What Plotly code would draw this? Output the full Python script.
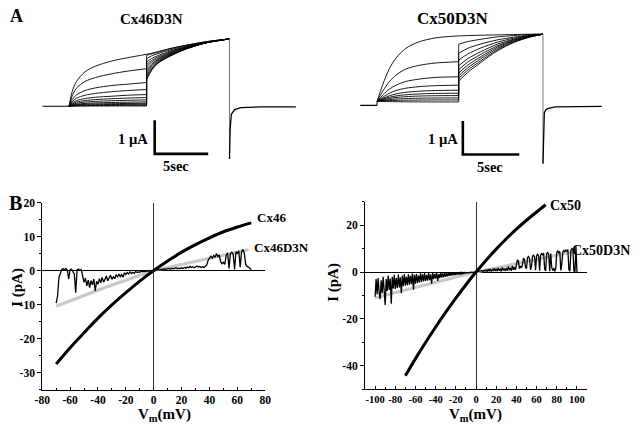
import plotly.graph_objects as go

W, H = 640, 428
FONT = "Liberation Serif"

# ---------------- Panel A : current traces (time in s, current in µA) ----------------
A46_BASE_T = [0.0, 2.5]
A46_T1 = [2.5, 2.8, 3.2, 4.0, 5.0, 6.5, 8.0, 9.75]
A46_SEG1 = [
    [0, 0.44, 0.74, 1.03, 1.20, 1.35, 1.45, 1.55],
    [0, 0.31, 0.54, 0.74, 0.86, 0.97, 1.05, 1.12],
    [0, 0.20, 0.34, 0.47, 0.55, 0.62, 0.66, 0.71],
    [0, 0.14, 0.24, 0.33, 0.385, 0.435, 0.47, 0.50],
    [0, 0.10, 0.17, 0.23, 0.27, 0.30, 0.33, 0.35],
    [0, 0.07, 0.125, 0.17, 0.20, 0.225, 0.245, 0.26],
    [0, 0.053, 0.09, 0.125, 0.146, 0.165, 0.178, 0.19],
    [0, 0.036, 0.062, 0.086, 0.10, 0.113, 0.122, 0.13],
    [0, 0.025, 0.043, 0.06, 0.07, 0.078, 0.084, 0.09],
    [0, 0.017, 0.029, 0.04, 0.046, 0.052, 0.056, 0.06],
    [0, 0.008, 0.014, 0.02, 0.023, 0.026, 0.028, 0.03],
    [0, 0.003, 0.005, 0.007, 0.008, 0.009, 0.01, 0.01],
]
A46_T2 = [9.75, 10.2, 10.8, 12.3, 13.8, 15.4, 17.5]
A46_SEG2 = [
    [1.55, 1.58, 1.63, 1.75, 1.84, 1.93, 2.01],
    [1.52, 1.56, 1.61, 1.74, 1.84, 1.93, 2.01],
    [1.42, 1.50, 1.57, 1.71, 1.82, 1.92, 2.01],
    [1.32, 1.42, 1.51, 1.68, 1.80, 1.91, 2.01],
    [1.245, 1.36, 1.47, 1.66, 1.79, 1.91, 2.01],
    [1.18, 1.31, 1.43, 1.64, 1.78, 1.90, 2.01],
    [1.11, 1.25, 1.40, 1.62, 1.77, 1.90, 2.01],
    [1.05, 1.21, 1.37, 1.60, 1.76, 1.90, 2.01],
    [0.98, 1.17, 1.34, 1.59, 1.76, 1.90, 2.01],
    [0.91, 1.12, 1.31, 1.57, 1.75, 1.90, 2.01],
    [0.85, 1.09, 1.29, 1.56, 1.75, 1.90, 2.01],
    [0.79, 1.06, 1.28, 1.55, 1.75, 1.90, 2.01],
]
A46_TAIL_T = [17.5, 17.52, 17.56, 17.67, 17.98, 18.58, 20.5, 23.7]
A46_TAIL_I = [-1.57, -1.0, -0.69, -0.24, -0.10, -0.04, -0.02, -0.02]

A50_BASE_T = [0.0, 1.5]
A50_T1 = [1.5, 2.02, 2.6, 3.18, 4.05, 5.2, 6.65, 8.73]
A50_SEG1 = [
    [0.12, 0.63, 1.10, 1.41, 1.70, 1.89, 2.01, 2.07],
    [0.12, 0.43, 0.71, 0.90, 1.08, 1.19, 1.26, 1.30],
    [0.12, 0.31, 0.485, 0.60, 0.71, 0.78, 0.83, 0.85],
    [0.12, 0.245, 0.36, 0.44, 0.51, 0.555, 0.585, 0.60],
    [0.12, 0.206, 0.285, 0.338, 0.387, 0.42, 0.44, 0.45],
    [0.12, 0.182, 0.24, 0.278, 0.314, 0.338, 0.353, 0.36],
    [0.12, 0.164, 0.205, 0.232, 0.258, 0.275, 0.285, 0.29],
    [0.12, 0.146, 0.17, 0.186, 0.201, 0.211, 0.217, 0.22],
    [0.12, 0.13, 0.14, 0.146, 0.152, 0.156, 0.159, 0.16],
    [0.12, 0.115, 0.11, 0.106, 0.103, 0.101, 0.10, 0.10],
]
A50_T2 = [8.73, 9.54, 10.7, 12.14, 13.6, 15.0, 16.2]
A50_SEG2 = [
    [2.07, 2.08, 2.09, 2.10, 2.11, 2.12, 2.12],
    [1.82, 1.90, 1.97, 2.04, 2.08, 2.11, 2.12],
    [1.55, 1.70, 1.83, 1.95, 2.03, 2.09, 2.12],
    [1.35, 1.53, 1.71, 1.88, 2.00, 2.08, 2.12],
    [1.18, 1.39, 1.60, 1.82, 1.97, 2.07, 2.12],
    [1.06, 1.29, 1.52, 1.77, 1.95, 2.06, 2.12],
    [0.96, 1.20, 1.45, 1.73, 1.93, 2.05, 2.12],
    [0.88, 1.12, 1.39, 1.69, 1.91, 2.04, 2.12],
    [0.80, 1.05, 1.33, 1.65, 1.89, 2.04, 2.12],
    [0.72, 0.98, 1.28, 1.62, 1.87, 2.03, 2.12],
]
A50_TAIL_T = [16.2, 16.25, 16.32, 16.45, 16.6, 17.3, 19.0, 21.4]
A50_TAIL_I = [-1.74, -0.6, -0.22, -0.14, -0.10, -0.05, -0.035, -0.03]

SCALE_SEC = 5.0   # horizontal scale bar (s)
SCALE_UA = 1.0    # vertical scale bar (µA)

# ---------------- Panel B : I-V relations (mV, pA) ----------------
IV46_V = [-70, -60, -50, -40, -30, -20, -10, 0, 10, 20, 30, 40, 50, 60, 70]
IV46_I = [-27.5, -22.7, -18.3, -14.0, -10.1, -6.5, -3.1, 0, 2.8, 5.4, 7.6, 9.6, 11.4, 12.8, 14.0]
FIT46_V = [-70, -35, 0, 35, 68]
FIT46_I = [-10.5, -5.0, 0, 3.1, 6.1]
CH46_V = list(range(-70, 71))
CH46_I = [
    -9.6, -7.5, -2.0, -0.5, 0.3, 0.5, 0.2, 0.6, 0.1, -2.5,
    0.3, 0.4, -0.2, -1.0, -6.5, 0.2, 0.4, 0.0, 0.3, -1.5,
    -3.5, -2.2, -4.5, -2.8, -5.0, -3.0, -4.2, -2.5, -6.0, -3.2,
    -4.0, -2.4, -3.6, -2.0, -3.4, -2.6, -1.6, -3.0, -2.2, -1.4,
    -2.6, -1.8, -2.4, -1.2, -2.0, -1.0, -1.8, -1.2, -2.0, -0.6,
    -1.2, -0.6, -1.0, -0.4, -0.9, -0.5, -0.8, -0.3, -0.6, -0.4,
    -0.5, -0.2, -0.4, -0.2, -0.3, -0.1, -0.2, 0.0, -0.1, 0.0,
    0.0, 0.1, 0.2, 0.3, 0.2, 0.3, 0.4, 0.3, 0.5, 0.4,
    0.5, 0.6, 0.4, 0.7, 0.5, 0.6, 0.8, 0.5, 0.7, 0.6,
    0.8, 0.6, 0.9, 0.7, 1.0, 0.8, 1.2, 0.9, 1.1, 0.8,
    1.0, 1.3, 1.0, 1.2, 0.9, 1.1, 0.9, 1.3, 1.6, 3.0,
    3.8, 4.2, 3.6, 4.4, 3.9, 5.0, 4.1, 4.6, 2.6, 2.0,
    2.4, 1.8, 4.6, 5.2, 0.6, 5.0, 5.4, 4.8, 0.3, 5.6,
    4.9, 5.8, 1.0, 5.5, 6.2, 5.0, 1.8, 1.2, 1.0, 0.6,
    0.2,
]

IV50_V = [-70, -60, -50, -40, -30, -20, -10, 0, 10, 20, 30, 40, 50, 60, 69]
IV50_I = [-44.2, -36.9, -30.0, -23.4, -17.1, -11.1, -5.4, 0, 5.05, 9.8, 14.2, 18.3, 22.1, 25.6, 28.7]
FIT50_V = [-100, -50, 0, 50, 98]
FIT50_I = [-11.0, -5.6, 0, 4.5, 8.8]
CH50_V = list(range(-100, 101))
CH50_I = [
    -10.5, -3.0, -9.5, -2.5, -8.8, -11.5, -3.5, -9.0, -2.0, -8.5,
    -14.0, -3.0, -8.0, -1.5, -7.6, -2.8, -13.5, -2.0, -7.0, -1.2,
    -7.2, -2.5, -6.8, -1.0, -6.5, -2.2, -9.0, -1.5, -6.0, -0.8,
    -5.8, -2.0, -5.6, -1.0, -5.4, -1.6, -5.2, -0.6, -7.5, -1.2,
    -5.0, -0.8, -4.6, -1.5, -4.4, -0.5, -4.2, -1.0, -4.0, -0.4,
    -3.8, -1.2, -3.6, -0.3, -3.4, -1.0, -5.0, -0.4, -3.0, -0.8,
    -2.8, -0.2, -3.8, -0.9, -2.6, -0.3, -2.4, -0.6, -2.2, -0.2,
    -2.0, -0.5, -1.8, -0.1, -1.6, -0.4, -1.5, -0.2, -1.3, -0.3,
    -1.2, -0.1, -1.0, -0.3, -0.9, -0.1, -0.8, -0.2, -0.6, -0.1,
    -0.5, -0.2, -0.4, -0.1, -0.3, 0.0, -0.2, -0.1, -0.1, 0.0,
    0.0, 0.1, 0.3, 0.2, 0.5, 0.3, 0.6, 0.2, 0.8, 0.4,
    0.9, 0.3, 1.1, 0.5, 1.3, 0.4, 1.0, 0.6, 1.6, 0.5,
    1.4, 0.4, 1.8, 0.6, 1.2, 0.3, 2.0, 0.7, 1.5, 0.5,
    1.7, 0.6, 2.4, 0.8, 1.9, 0.5, 2.6, 1.0, 2.2, 0.9,
    2.8, 5.2, 4.8, 1.5, 2.4, 1.8, 3.0, 6.0, 5.4, 2.0,
    1.5, 6.2, 6.6, 5.8, 1.0, 2.5, 6.8, 7.2, 6.5, 0.8,
    7.0, 7.6, 6.9, 0.6, 7.4, 7.9, 7.2, 8.1, 1.2, 0.5,
    7.8, 8.3, 7.5, 0.4, 7.9, 2.0, 0.6, 1.8, 0.3, 1.5,
    8.5, 9.0, 8.2, 8.8, 0.7, 3.5, 8.6, 9.2, 8.7, 9.4,
    8.9, 9.6, 1.0, 0.4, 9.3, 10.0, 9.5, 0.5, 0.2, 11.0,
    0.0,
]

TICKS46_V = [-80, -60, -40, -20, 0, 20, 40, 60, 80]
TICKS46_I = [-30, -20, -10, 0, 10, 20]
TICKS50_V = [-100, -80, -60, -40, -20, 0, 20, 40, 60, 80, 100]
TICKS50_I = [-40, -20, 0, 20]

# ---------------- figure ----------------
fig = go.Figure()


def line(x, y, xa, ya, color="black", width=1.0, shape="linear"):
    ln = dict(color=color, width=width, shape=shape)
    if shape == "spline":
        ln["smoothing"] = 0.8
    fig.add_trace(go.Scatter(x=x, y=y, mode="lines", line=ln, xaxis=xa, yaxis=ya,
                             hoverinfo="skip", showlegend=False))


def family(base_t, t1, seg1, t2, seg2, tail_t, tail_i, xa, ya):
    line(base_t, [0, 0], xa, ya, width=1.2)
    if seg1[0][0] != 0:
        line([t1[0], t1[0]], [0, seg1[0][0]], xa, ya)
    for s1, s2 in zip(seg1, seg2):
        line(t1, s1, xa, ya, width=0.9, shape="spline")
        line([t1[-1], t2[0]], [s1[-1], s2[0]], xa, ya, width=0.8)
        line(t2, s2, xa, ya, width=0.9, shape="spline")
    top = seg2[0][-1]
    line([tail_t[0], tail_t[0]], [top, tail_i[0]], xa, ya, color="#777", width=1)
    line(tail_t, tail_i, xa, ya, width=1.3)


family(A46_BASE_T, A46_T1, A46_SEG1, A46_T2, A46_SEG2, A46_TAIL_T, A46_TAIL_I, "x", "y")
family(A50_BASE_T, A50_T1, A50_SEG1, A50_T2, A50_SEG2, A50_TAIL_T, A50_TAIL_I, "x2", "y2")

# scale bars
for (t0, i0, xa, ya) in [(10.51, -0.42, "x", "y"), (9.1, -0.47, "x2", "y2")]:
    line([t0, t0, t0 + SCALE_SEC], [i0, i0 - SCALE_UA, i0 - SCALE_UA], xa, ya, width=2.6)

# I-V panels
line(FIT46_V, FIT46_I, "x3", "y3", color="#c8c8c8", width=3)
line(CH46_V, CH46_I, "x3", "y3", width=1.3)
line(IV46_V, IV46_I, "x3", "y3", width=3, shape="spline")

line(FIT50_V, FIT50_I, "x4", "y4", color="#c8c8c8", width=3)
line(CH50_V, CH50_I, "x4", "y4", width=1.3)
line(IV50_V, IV50_I, "x4", "y4", width=3, shape="spline")


def dx(a, b):
    return [a / W, b / W]


def dy(top, bot):
    return [1 - bot / H, 1 - top / H]


hidden = dict(visible=False, showgrid=False, zeroline=False, fixedrange=True)


def iv_x(dom, rng, ticks, anchor, fsize):
    return dict(domain=dom, range=rng, anchor=anchor, showline=True, linecolor="black",
                linewidth=1, ticks="inside", ticklen=3, tickcolor="black", tickangle=0,
                tickvals=ticks, ticktext=[str(v) for v in ticks],
                tickfont=dict(family=FONT, size=fsize, color="black", weight="bold"),
                minor=dict(ticks="inside", ticklen=2, dtick=10, tick0=0, tickcolor="black"),
                showgrid=False, zeroline=True, zerolinecolor="#333", zerolinewidth=1)


def iv_y(dom, rng, ticks, minor, anchor, fsize):
    return dict(domain=dom, range=rng, anchor=anchor, showline=True, linecolor="black",
                linewidth=1, ticks="outside", ticklen=4, tickcolor="black",
                tickvals=ticks, ticktext=[str(v) for v in ticks],
                tickfont=dict(family=FONT, size=fsize, color="black", weight="bold"),
                minor=dict(ticks="outside", ticklen=2, dtick=minor, tick0=0, tickcolor="black"),
                showgrid=False, zeroline=True, zerolinecolor="black", zerolinewidth=1)


fig.update_layout(
    width=W, height=H, autosize=False,
    margin=dict(l=0, r=0, t=0, b=0, pad=0),
    paper_bgcolor="white", plot_bgcolor="white",
    xaxis=dict(domain=dx(35, 295), range=[0, 260 / 10.94], anchor="y", **hidden),
    yaxis=dict(domain=dy(20, 165), range=[(101.7 - 165) / 34, (101.7 - 20) / 34], anchor="x", **hidden),
    xaxis2=dict(domain=dx(360, 610), range=[0, 250 / 11.54], anchor="y2", **hidden),
    yaxis2=dict(domain=dy(20, 165), range=[(100.7 - 165) / 34, (100.7 - 20) / 34], anchor="x2", **hidden),
    xaxis3=iv_x(dx(35, 263), [-80, 80], TICKS46_V, "y3", 11.5),
    yaxis3=iv_y(dy(199.3, 389), [-35, 20], TICKS46_I, 5, "x3", 11.5),
    xaxis4=iv_x(dx(365, 592), [-110, 110], TICKS50_V, "y4", 10.5),
    yaxis4=iv_y(dy(198.5, 388.8), [-50, 30], TICKS50_I, 10, "x4", 11.5),
)


def ann(text, px, py, size, angle=0):
    return dict(text=text, x=px / W, y=1 - py / H, xref="paper", yref="paper",
                showarrow=False, xanchor="center", yanchor="middle", textangle=angle,
                font=dict(family=FONT, size=size, color="black", weight="bold"))


fig.update_layout(annotations=[
    ann("A", 9, 10, 18),
    ann("B", 8, 200, 20),
    ann("Cx46D3N", 147, 13, 15),
    ann("Cx50D3N", 455, 13, 17),
    ann("1 µA", 128, 135, 14.5),
    ann("5sec", 172, 162, 14.5),
    ann("1 µA", 444.7, 135, 14.5),
    ann("5sec", 493, 163, 14.5),
    ann("Cx46", 269, 215, 13),
    ann("Cx46D3N", 280, 245, 13),
    ann("Cx50", 570, 202, 14),
    ann("Cx50D3N", 606, 248, 14),
    ann("I (pA)", 9, 285, 15, -90),
    ann("I (pA)", 332, 280, 15, -90),
    ann("V<sub>m</sub>(mV)", 160, 415, 15),
    ann("V<sub>m</sub>(mV)", 478, 415, 15),
])

# the page's default 8px body margin would shift the 640x428 figure; remove it
fig.write_html("out.html", config={"displayModeBar": False},
               post_script="document.body.style.margin='0';document.body.style.overflow='hidden';")
